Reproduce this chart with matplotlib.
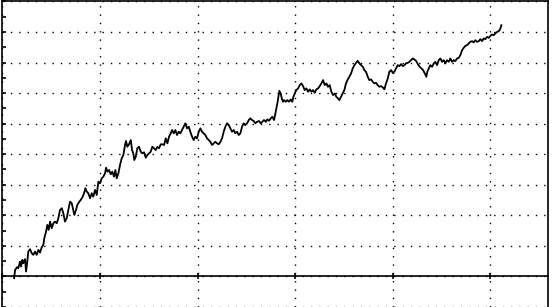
import matplotlib
matplotlib.use("Agg")
import matplotlib.pyplot as plt
from matplotlib.ticker import MultipleLocator

# Equity curve (trade number vs cumulative result)
trade_x = [
    12, 13, 15, 16.3, 18, 19.1, 20.4, 21.4, 23.2, 24.2, 25.5, 26.5, 28.3, 30, 31.7, 33.4, 35.1,
    36.8, 38.5, 40.3, 41.9, 42.9, 44.7, 46, 47.4, 48.8, 50.5, 52.2, 53.9, 55.6, 57.3, 59, 60.8,
    62.4, 64.1, 65.9, 67.5, 69.3, 71, 72.6, 73.7, 75.4, 76.7, 78.8, 80.2, 82.3, 83.6, 85, 86.4, 88,
    89.8, 91.5, 93.1, 94.9, 96.6, 98.3, 100, 101.7, 103.4, 105.1, 106.2, 107.5, 109.2, 111, 112.6,
    114.3, 115.7, 117.1, 118.8, 120.5, 122.2, 123.9, 125.6, 126.6, 128, 129.7, 131.5, 132.8, 134.1,
    135.1, 136.6, 138.2, 139.9, 141.7, 143.3, 145.1, 146.8, 148.5, 150.2, 151.9, 153.6, 155.3,
    157.1, 158.7, 160.4, 162.2, 163.8, 165.6, 167.3, 169, 170.7, 172.4,
    173.8, 175.5, 177.2, 178.9, 180.6, 182.3, 184, 185.8, 187.4, 189.1, 190.9, 192.5, 194.3, 196,
    197.6, 199.4, 201.1, 202.8, 204.5, 206.2, 207.9, 209.6, 211.4, 213, 214.8, 216.5, 218.1, 219.9,
    221.6, 223.3, 225, 226.7, 228.4, 230.1, 231.9, 233.5, 235.2, 237, 238.6, 240.4, 242.1, 243.8,
    245.5, 247.2, 248.9, 250.6, 252.4, 254, 255.7, 257.5, 259.1, 260.9,
    262.9, 264.7, 266.3, 268, 269.8, 271.4, 273.2, 274.9, 276.5, 278.3, 279.3, 280.3, 281.7, 282.7,
    283.7, 285.1, 286.2, 287.5, 288.5, 290.3, 291.9, 293.7, 295.4, 297, 298.1, 299.5, 301.1, 302.9,
    304.6, 306.3, 308, 309.7, 311.4, 313.1, 314.9, 316.5, 318.2, 320, 321.6, 323.4, 325.1, 326.8,
    328.5, 330.2, 331.9, 333.6, 335.3, 337, 338.7, 340.5, 342.1, 343.8, 345.2,
    346.9, 348.7, 350.3, 352, 353.8, 355.4, 357.2, 358.9, 360.6, 362.3, 364, 365.7, 367.4, 369.2,
    370.8, 372.5, 374.3, 375.9, 377.7, 379.4, 381, 382.8, 384.5, 386.2, 387.9, 389.7, 391.3, 393,
    394.8, 396.4, 398.2, 399.9, 401.5, 403.3, 405, 406.7, 408.4, 410.2, 411.8, 413.5, 415.3, 416.9,
    418.7, 420.4, 422, 423.8,
    425.8, 427.6, 429.2, 431, 432.7, 434.3, 435.3, 436.8, 438.4, 440.2, 441.9, 443.5, 445.3, 447,
    448.7, 450.4, 452.2, 453.8, 455.5, 457.3, 458.9, 460.7, 462.4, 464, 465.8, 467.5, 469.2, 470.9,
    472.6, 474.3, 476, 477.8, 479.4, 481.2, 482.9, 484.5, 486.3, 488, 489.7, 491.4, 493.1, 494.8,
    496.5, 498.3, 499.9, 501.6, 503.4, 505, 506.8, 508.5, 510.2, 511.2,
]

equity = [
    -56, 216, 304, 271, 487, 324, 542, 435, 565, 160, 487, 814, 892, 761, 706, 814, 706,
    869, 781, 958, 1033, 1252, 1467, 1686, 1523, 1794, 1578, 1742, 1794, 1742, 1905, 2176, 2232,
    2069, 1794, 1905, 2176, 2448, 2395, 2176, 2013, 2176, 2340, 2448, 2503, 2611, 2722, 2886, 2775, 2722,
    2559, 2722, 2611, 2830, 2667, 3101, 3049, 3212, 3265, 3376, 3559, 3428, 3484, 3343, 3428,
    3265, 3484, 3212, 3376, 3647, 3866, 3974, 4301, 4431, 4245, 4324, 4464, 4137, 4029,
    3810, 3918, 4193, 4245, 4082, 4029, 4062, 3886, 3974, 4029, 4082, 4245, 4193,
    4137, 4245, 4193, 4324, 4324, 4301, 4520, 4356, 4572, 4683,
    4791, 4683, 4791, 4627, 4735, 4683, 4791, 4899, 5010, 4846, 4899, 4735, 4572, 4464,
    4572, 4520, 4735, 4846, 4735, 4683, 4627, 4520, 4464, 4408, 4301, 4356, 4408, 4356,
    4324, 4408, 4520, 4735, 4899, 5010, 4954, 4846, 4735, 4791, 4683, 4735, 4627, 4683,
    4899, 5010, 4954, 5010, 5118, 5173, 5118, 5085, 5010, 5062,
    5085, 5010, 5062, 5118, 5062, 5141, 5095, 5173, 5226, 5118, 5281, 5444, 5663, 5879,
    6075, 5990, 5827, 5716, 5771, 5716, 5771, 5716, 5794, 5716, 5879, 5990, 6098, 6154,
    6261, 6317, 6229, 6098, 6154, 6043, 6121, 6043, 6098, 6010, 6121, 6154, 6229, 6317,
    6425, 6261, 6317, 6206, 6261, 6043, 5935, 5990, 5879, 5827, 5771,
    5879, 5990, 6098, 6317, 6448, 6533, 6644, 6807, 6915, 6990, 7056, 6971, 6915, 6860,
    6752, 6696, 6533, 6425, 6448, 6369, 6317, 6337, 6261, 6206, 6229, 6186, 6121, 6317,
    6480, 6696, 6752, 6663, 6696, 6807, 6915, 6882, 6948, 6882, 6915, 6971, 6990, 7023,
    7078, 7134, 7101, 7056,
    6938, 6860, 6807, 6752, 6644, 6533, 6696, 6807, 6915, 6860, 6971, 7023, 6915, 7078,
    7134, 7023, 7078, 6971, 7078, 7023, 7134, 7023, 7078, 7046, 7134, 7154, 7242, 7405,
    7480, 7546, 7569, 7624, 7677, 7699, 7657, 7732, 7677, 7699, 7765, 7699, 7788, 7765,
    7840, 7807, 7873, 7918, 7895, 7951, 8003, 8026, 8114, 8222,
]

fig = plt.figure(figsize=(5.52, 3.07), dpi=100)
# axes fills the picture, the lower part runs off the bottom edge
ax = fig.add_axes([0.0044, 0.0, 0.9879, 0.9954])

ax.plot(trade_x, equity, color="black", linewidth=1.3)

ax.set_xlim(0, 558.7)
ax.set_ylim(-1000, 9000)

# dotted grid every 100 trades / 1000 units
ax.xaxis.set_major_locator(MultipleLocator(100))
ax.yaxis.set_major_locator(MultipleLocator(1000))
ax.yaxis.set_minor_locator(MultipleLocator(500))
ax.grid(True, which="major", color="black", linestyle=(0, (1, 5)), linewidth=1.0)

# zero line doubles as the x axis
ax.spines["bottom"].set_position(("data", 0))
for side in ["left", "top", "right", "bottom"]:
    ax.spines[side].set_linewidth(1.2)
    ax.spines[side].set_color("black")

ax.tick_params(axis="y", which="both", direction="in", length=3, width=1.2,
               left=True, right=False, labelleft=False)
ax.tick_params(axis="x", direction="inout", length=5, width=1.2,
               top=False, labelbottom=False)

fig.savefig("out.png", dpi=100)
